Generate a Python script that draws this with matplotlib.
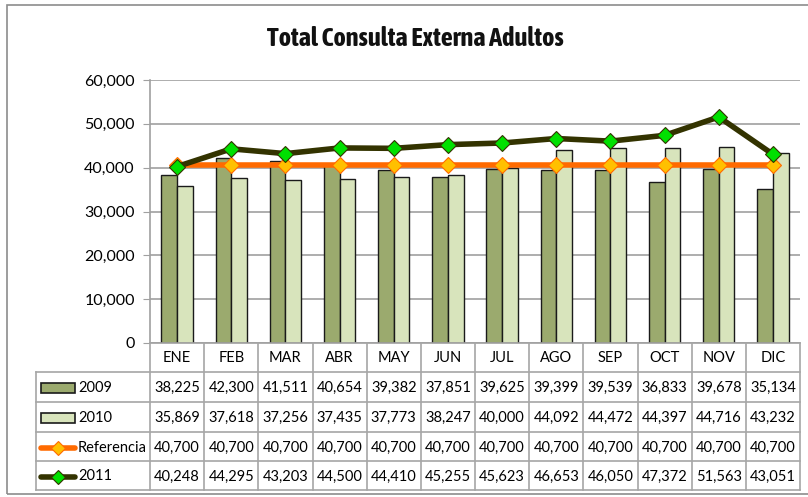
import matplotlib
matplotlib.use("Agg")
import matplotlib.pyplot as plt
from matplotlib.lines import Line2D
from matplotlib.patches import Rectangle

months = ["ENE", "FEB", "MAR", "ABR", "MAY", "JUN", "JUL", "AGO", "SEP", "OCT", "NOV", "DIC"]
v2009 = [38225, 42300, 41511, 40654, 39382, 37851, 39625, 39399, 39539, 36833, 39678, 35134]
v2010 = [35869, 37618, 37256, 37435, 37773, 38247, 40000, 44092, 44472, 44397, 44716, 43232]
referencia = [40700] * 12
v2011 = [40248, 44295, 43203, 44500, 44410, 45255, 45623, 46653, 46050, 47372, 51563, 43051]
yticks = [0, 10000, 20000, 30000, 40000, 50000, 60000]
title = "Total Consulta Externa Adultos"

W, H = 808, 497
fig = plt.figure(figsize=(W / 100, H / 100), dpi=100)
plt.rcParams['font.family'] = ['Lato', 'DejaVu Sans']

def fx(px):
    return px / W

def fy(py):
    return 1 - py / H

c2009 = "#9BAA6E"
c2010 = "#D8E4BC"
cref = "#FF6A00"
cref_m = "#FFC000"
c2011 = "#333300"
c2011_m = "#00E000"
grid_c = "#A0A0A0"

# chart border
fig.add_artist(Rectangle((fx(7), fy(494)), fx(900), fy(5) - fy(494), transform=fig.transFigure,
                         fill=False, edgecolor="#8C8C8C", linewidth=1.2))

L, R, T, B = 150, 800, 80, 343
ax = fig.add_axes([fx(L), fy(B), fx(R - L), fy(T) - fy(B)])
x = list(range(12))
bw = 0.29
ax.bar([i - bw / 2 for i in x], v2009, width=bw, color=c2009, edgecolor="#1a1a1a", linewidth=1.0, zorder=2)
ax.bar([i + bw / 2 for i in x], v2010, width=bw, color=c2010, edgecolor="#1a1a1a", linewidth=1.0, zorder=2)
ax.plot(x, referencia, color=cref, linewidth=4, marker="D", markersize=8.5,
        markerfacecolor=cref_m, markeredgecolor=cref, markeredgewidth=0.8, zorder=3)
ax.plot(x, v2011, color=c2011, linewidth=4, marker="D", markersize=8.5,
        markerfacecolor=c2011_m, markeredgecolor=c2011, markeredgewidth=0.8, zorder=4)
ax.set_xlim(-0.5, 11.5)
ax.set_ylim(0, 60000)
ax.set_yticks(yticks)
ax.set_yticklabels([f"{v:,}" for v in yticks], fontsize=11.5)
ax.set_xticks([])
ax.grid(axis="y", color=grid_c, linewidth=1.2, zorder=0)
for s in ["top", "right"]:
    ax.spines[s].set_visible(False)
ax.spines["left"].set_color(grid_c)
ax.spines["bottom"].set_color(grid_c)
ax.spines["left"].set_linewidth(1.2)
ax.spines["bottom"].set_linewidth(1.2)
ax.tick_params(axis="y", length=5, color=grid_c, pad=6)
ax.set_axisbelow(True)

fig.text(fx(415), fy(38), title, ha="center", va="center", fontsize=19, fontweight="bold",
         family=["Asap Condensed", "Liberation Sans", "DejaVu Sans"], color="#111111")

# data table
cw = (R - L) / 12
row_y = [343, 372, 402, 432, 461, 490]
lab_x0 = 36
tc = "#A6A6A6"
def hline(y, x0, x1):
    fig.add_artist(Line2D([fx(x0), fx(x1)], [fy(y), fy(y)], color=tc, linewidth=1.2, transform=fig.transFigure))
def vline(xp, y0, y1):
    fig.add_artist(Line2D([fx(xp), fx(xp)], [fy(y0), fy(y1)], color=tc, linewidth=1.2, transform=fig.transFigure))

for y in row_y[1:]:
    hline(y, lab_x0, R)
for k in range(13):
    vline(L + k * cw, 343, 490)
vline(lab_x0, 372, 490)

for i, m in enumerate(months):
    fig.text(fx(L + (i + 0.5) * cw), fy((row_y[0] + row_y[1]) / 2 + 1), m, ha="center", va="center", fontsize=10.5)

series = [("2009", v2009), ("2010", v2010), ("Referencia", referencia), ("2011", v2011)]
for r, (name, vals) in enumerate(series):
    yc = (row_y[r + 1] + row_y[r + 2]) / 2 + 1
    for i, v in enumerate(vals):
        fig.text(fx(L + (i + 0.5) * cw), fy(yc), f"{v:,}", ha="center", va="center", fontsize=10.5)
    fig.text(fx(78), fy(yc), name, ha="left", va="center", fontsize=10.5)
    if r < 2:
        col = c2009 if r == 0 else c2010
        fig.add_artist(Rectangle((fx(41), fy(yc + 5)), fx(34), fy(yc - 5) - fy(yc + 5), transform=fig.transFigure,
                                 facecolor=col, edgecolor="#1a1a1a", linewidth=1.2))
    else:
        lc, mfc = (cref, cref_m) if r == 2 else (c2011, c2011_m)
        fig.add_artist(Line2D([fx(41), fx(75)], [fy(yc), fy(yc)], color=lc, linewidth=4,
                              solid_capstyle="round", transform=fig.transFigure))
        fig.add_artist(Line2D([fx(58)], [fy(yc)], marker="D", markersize=7, markerfacecolor=mfc,
                              markeredgecolor=lc, markeredgewidth=0.8, transform=fig.transFigure))

fig.savefig("out.png", dpi=100)
